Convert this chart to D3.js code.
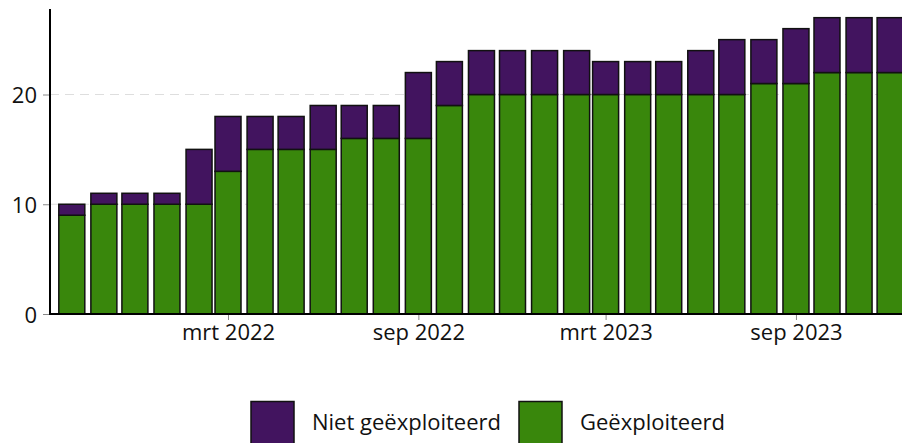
<!DOCTYPE html>
<html>
<head>
<meta charset="utf-8">
<script src="https://cdn.jsdelivr.net/npm/d3@7"></script>
<style>
  html, body { margin: 0; padding: 0; background: #fff; overflow: hidden; }
  svg { display: block; font-family: "Open Sans", sans-serif; }
</style>
</head>
<body>
<svg id="chart" width="902" height="443"></svg>
<script>
// ---- data ----
const months = ["2021-10","2021-11","2021-12","2022-01","2022-02","2022-03","2022-04","2022-05","2022-06",
                "2022-07","2022-08","2022-09","2022-10","2022-11","2022-12","2023-01","2023-02","2023-03",
                "2023-04","2023-05","2023-06","2023-07","2023-08","2023-09","2023-10","2023-11","2023-12"];
const geexploiteerd     = [9,10,10,10,10,13,15,15,15,16,16,16,19,20,20,20,20,20,20,20,20,20,21,21,22,22,22];
const nietGeexploiteerd = [1, 1, 1, 1, 5, 5, 3, 3, 4, 3, 3, 6, 4, 4, 4, 4, 4, 3, 3, 3, 4, 5, 4, 5, 5, 5, 5];
const xTickDates  = ["2022-03","2022-09","2023-03","2023-09"];
const xTickLabels = ["mrt 2022","sep 2022","mrt 2023","sep 2023"];
const yTicks = [0, 10, 20];
const seriesNames = ["Niet geëxploiteerd", "Geëxploiteerd"];
const seriesColors = ["#42145f", "#39870c"];

// ---- setup ----
const svg = d3.select("#chart");
const parse = d3.timeParse("%Y-%m");
const dates = months.map(parse);

const x = d3.scaleTime()
  .domain([parse("2021-10"), parse("2023-12")])
  .range([71.8, 890.1]);
const y = d3.scaleLinear().domain([0, 27.7]).range([314, 10]);

const axisLeftX = 50;
const barW = 26;

// gridlines
svg.append("g").selectAll("line").data(yTicks.filter(d => d > 0)).join("line")
  .attr("x1", axisLeftX).attr("x2", 902)
  .attr("y1", d => y(d)).attr("y2", d => y(d))
  .attr("stroke", "#dedede").attr("stroke-width", 1)
  .attr("stroke-dasharray", "9,6");

// stacked bars
const rows = dates.map((d, i) => ({date: d, g: geexploiteerd[i], n: nietGeexploiteerd[i]}));
const bars = svg.append("g");
bars.selectAll("rect.g").data(rows).join("rect")
  .attr("class", "g")
  .attr("x", d => x(d.date) - barW / 2)
  .attr("width", barW)
  .attr("y", d => y(d.g))
  .attr("height", d => y(0) - y(d.g))
  .attr("fill", seriesColors[1])
  .attr("stroke", "#111").attr("stroke-width", 1.5);
bars.selectAll("rect.n").data(rows).join("rect")
  .attr("class", "n")
  .attr("x", d => x(d.date) - barW / 2)
  .attr("width", barW)
  .attr("y", d => y(d.g + d.n))
  .attr("height", d => y(d.g) - y(d.g + d.n))
  .attr("fill", seriesColors[0])
  .attr("stroke", "#111").attr("stroke-width", 1.5);

// y axis
const yAxis = d3.axisLeft(y).tickValues(yTicks).tickSize(7).tickPadding(6);
const gy = svg.append("g").attr("transform", `translate(${axisLeftX},0)`).call(yAxis);
gy.select(".domain").remove();
gy.selectAll(".tick line").attr("stroke", "#888").attr("stroke-width", 1);
gy.selectAll(".tick text").attr("font-size", 22).attr("fill", "#111")
  .attr("dy", "0.38em")
  .attr("font-family", "Open Sans, sans-serif");
svg.append("line").attr("x1", axisLeftX).attr("x2", axisLeftX)
  .attr("y1", 9).attr("y2", y(0) + 1)
  .attr("stroke", "#000").attr("stroke-width", 2);

// x axis
const xAxis = d3.axisBottom(x)
  .tickValues(xTickDates.map(parse))
  .tickFormat((d, i) => xTickLabels[i])
  .tickSize(6).tickPadding(4);
const gx = svg.append("g").attr("transform", `translate(0,${y(0)})`).call(xAxis);
gx.select(".domain").remove();
gx.selectAll(".tick line").attr("stroke", "#888").attr("stroke-width", 1);
gx.selectAll(".tick text").attr("font-size", 22).attr("fill", "#111")
  .attr("font-family", "Open Sans, sans-serif");
svg.append("line").attr("x1", axisLeftX - 1).attr("x2", 902)
  .attr("y1", y(0)).attr("y2", y(0))
  .attr("stroke", "#000").attr("stroke-width", 2);

// legend
const legendItems = [
  {name: seriesNames[0], color: seriesColors[0], sx: 251, tx: 312},
  {name: seriesNames[1], color: seriesColors[1], sx: 519, tx: 580}
];
const lg = svg.append("g");
legendItems.forEach(it => {
  lg.append("rect").attr("x", it.sx).attr("y", 401.5).attr("width", 43).attr("height", 44)
    .attr("fill", it.color).attr("stroke", "#111").attr("stroke-width", 1.5);
  lg.append("text").attr("x", it.tx).attr("y", 430).text(it.name)
    .attr("font-size", 22).attr("fill", "#111");
});
</script>
</body>
</html>
